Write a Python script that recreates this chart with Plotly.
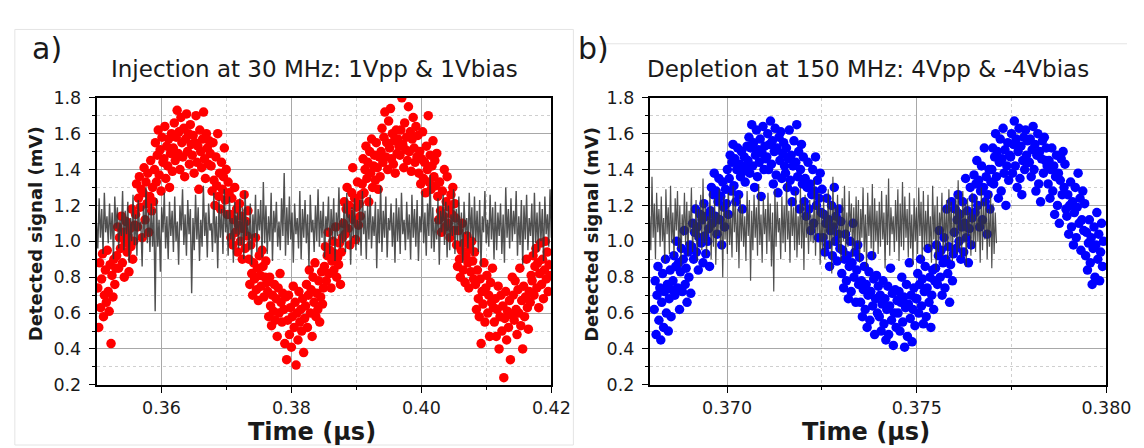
import numpy as np
import plotly.graph_objects as go

# ---------------- data ----------------
# (a) injection, 30 MHz : detected signal samples (mV)
inj_t_start, inj_t_end = 0.3502, 0.4198
inj_signal = [
    0.74, 0.52, 0.88, 0.63, 0.79, 0.93, 0.58, 0.70, 0.84, 0.66, 0.95, 0.72, 0.61, 0.87, 0.43, 0.81, 0.69, 0.90, 0.76, 0.85,
    0.92, 1.08, 0.85, 1.02, 0.96, 1.14, 0.88, 1.05, 0.80, 0.99, 1.11, 0.94, 1.03, 0.83, 1.07, 0.97, 1.18, 0.90, 1.00, 1.09,
    1.15, 1.32, 1.08, 1.24, 1.36, 1.19, 1.29, 1.02, 1.27, 1.41, 1.12, 1.33, 1.21, 1.38, 1.05, 1.25, 1.45, 1.17, 1.30, 1.22,
    1.40, 1.55, 1.33, 1.48, 1.62, 1.37, 1.51, 1.28, 1.58, 1.44, 1.46, 1.64, 1.35, 1.53, 1.42, 1.57, 1.30, 1.49, 1.60, 1.39,
    1.52, 1.66, 1.45, 1.58, 1.73, 1.49, 1.61, 1.40, 1.69, 1.55, 1.47, 1.63, 1.36, 1.57, 1.71, 1.50, 1.60, 1.43, 1.65, 1.54,
    1.48, 1.59, 1.38, 1.55, 1.70, 1.44, 1.53, 1.29, 1.62, 1.50, 1.41, 1.57, 1.72, 1.46, 1.35, 1.60, 1.52, 1.43, 1.56, 1.49,
    1.42, 1.28, 1.55, 1.34, 1.20, 1.47, 1.31, 1.60, 1.25, 1.38, 1.18, 1.44, 1.29, 1.36, 1.52, 1.23, 1.40, 1.15, 1.33, 1.27,
    1.15, 1.02, 1.24, 0.98, 1.12, 1.30, 1.05, 1.18, 0.94, 1.09, 1.21, 1.00, 1.14, 0.90, 1.07, 1.26, 0.96, 1.11, 1.03, 1.17,
    0.90, 0.76, 0.98, 0.82, 0.70, 0.88, 0.79, 1.02, 0.73, 0.85, 0.67, 0.92, 0.81, 0.75, 0.95, 0.86, 0.69, 0.80, 0.89, 0.77,
    0.72, 0.58, 0.80, 0.64, 0.53, 0.70, 0.61, 0.76, 0.56, 0.68, 0.47, 0.74, 0.60, 0.82, 0.66, 0.55, 0.71, 0.62, 0.43, 0.69,
    0.34, 0.56, 0.70, 0.48, 0.63, 0.41, 0.58, 0.75, 0.52, 0.66, 0.31, 0.60, 0.45, 0.72, 0.55, 0.62, 0.50, 0.68, 0.38, 0.57,
    0.64, 0.76, 0.52, 0.70, 0.84, 0.60, 0.73, 0.47, 0.80, 0.66, 0.88, 0.58, 0.71, 0.62, 0.78, 0.55, 0.69, 0.83, 0.65, 0.74,
    0.86, 0.97, 0.78, 0.92, 1.05, 0.82, 0.95, 0.74, 0.89, 1.00, 0.84, 0.93, 1.08, 0.80, 0.91, 0.87, 0.99, 0.76, 0.94, 1.02,
    1.10, 1.22, 1.04, 1.18, 1.30, 1.07, 1.20, 0.98, 1.15, 1.27, 1.41, 1.12, 1.24, 1.01, 1.19, 1.33, 1.09, 1.21, 1.14, 1.26,
    1.32, 1.46, 1.27, 1.40, 1.53, 1.35, 1.44, 1.22, 1.50, 1.38, 1.57, 1.30, 1.42, 1.48, 1.34, 1.55, 1.41, 1.29, 1.47, 1.36,
    1.50, 1.63, 1.44, 1.58, 1.72, 1.47, 1.55, 1.40, 1.67, 1.52, 1.74, 1.46, 1.60, 1.43, 1.56, 1.38, 1.62, 1.49, 1.57, 1.53,
    1.48, 1.62, 1.80, 1.54, 1.41, 1.66, 1.51, 1.58, 1.45, 1.75, 1.50, 1.61, 1.39, 1.57, 1.69, 1.52, 1.44, 1.64, 1.47, 1.59,
    1.38, 1.50, 1.32, 1.46, 1.61, 1.35, 1.44, 1.27, 1.53, 1.40, 1.70, 1.33, 1.48, 1.29, 1.42, 1.56, 1.36, 1.45, 1.31, 1.49,
    1.25, 1.12, 1.33, 1.17, 1.05, 1.28, 1.14, 1.40, 1.08, 1.22, 1.36, 1.10, 1.19, 1.02, 1.26, 1.15, 1.30, 1.06, 1.21, 1.13,
    0.98, 0.86, 1.06, 0.90, 0.80, 0.95, 1.10, 0.84, 0.99, 0.77, 0.92, 1.03, 0.88, 0.74, 0.96, 0.83, 1.00, 0.89, 0.79, 0.94,
    0.76, 0.62, 0.84, 0.68, 0.58, 0.79, 0.43, 0.72, 0.65, 0.88, 0.55, 0.74, 0.81, 0.60, 0.70, 0.47, 0.77, 0.66, 0.85, 0.63,
    0.55, 0.68, 0.47, 0.62, 0.75, 0.40, 0.58, 0.70, 0.50, 0.64, 0.24, 0.57, 0.72, 0.45, 0.61, 0.52, 0.67, 0.34, 0.59, 0.80,
    0.70, 0.56, 0.78, 0.62, 0.48, 0.73, 0.60, 0.85, 0.53, 0.67, 0.40, 0.75, 0.58, 0.69, 0.90, 0.63, 0.51, 0.72, 0.66, 0.81,
    0.78, 0.92, 0.70, 0.86, 0.96, 0.74, 0.88, 0.63, 0.82, 0.99, 0.76, 0.90, 0.68, 0.84, 1.00, 0.79, 0.94, 0.72, 0.87, 0.81,
]

# (a) reference trace (no modulation)
inj_ref_t_start, inj_ref_t_end = 0.350, 0.420
inj_ref = [
    1.10, 0.96, 1.24, 1.02, 1.18, 0.93, 1.27, 1.05, 1.14, 0.99,
    1.21, 1.01, 1.16, 0.90, 1.25, 1.07, 1.19, 0.96, 1.12, 1.03,
    1.28, 0.95, 1.17, 1.04, 1.22, 0.88, 1.13, 1.00, 1.26, 0.98,
    1.15, 0.92, 1.23, 1.06, 1.11, 0.86, 1.20, 1.02, 1.30, 0.99,
    1.16, 0.94, 1.21, 0.97, 1.18, 0.61, 1.24, 0.97, 1.12, 0.83,
    1.19, 1.05, 1.27, 0.96, 1.14, 0.90, 1.22, 1.03, 1.17, 0.94,
    1.25, 1.00, 1.11, 0.87, 1.20, 1.06, 1.29, 0.98, 1.15, 0.92,
    1.23, 1.04, 1.18, 0.71, 1.13, 0.95, 1.26, 1.01, 1.19, 0.89,
    1.12, 0.97, 1.31, 1.03, 1.16, 0.91, 1.21, 1.06, 1.10, 0.94,
    1.27, 0.99, 1.14, 0.85, 1.23, 1.02, 1.18, 0.93, 1.29, 1.05,
    1.17, 0.92, 1.25, 1.01, 1.13, 0.88, 1.22, 1.04, 1.16, 0.96,
    1.24, 0.98, 1.19, 0.90, 1.28, 1.03, 1.12, 0.95, 1.21, 0.87,
    1.15, 1.02, 1.26, 0.94, 1.18, 1.06, 1.23, 0.91, 1.33, 0.99,
    1.20, 0.93, 1.14, 1.00, 1.27, 0.89, 1.17, 1.05, 1.22, 0.97,
    1.11, 0.95, 1.24, 1.03, 1.38, 0.92, 1.19, 0.98, 1.25, 1.01,
    1.16, 0.88, 1.21, 1.04, 1.13, 0.96, 1.28, 0.90, 1.18, 1.02,
    1.23, 0.99, 1.15, 0.86, 1.26, 1.05, 1.12, 0.94, 1.20, 1.00,
    1.29, 0.97, 1.17, 1.02, 1.22, 0.91, 1.14, 1.06, 1.25, 0.93,
    1.18, 1.01, 1.24, 0.89, 1.16, 1.03, 1.30, 0.96, 1.13, 0.99,
    1.21, 0.94, 1.27, 1.05, 1.15, 0.87, 1.19, 1.02, 1.24, 0.95,
    1.12, 0.98, 1.23, 0.92, 1.28, 1.04, 1.17, 0.90, 1.20, 1.01,
    1.26, 0.96, 1.14, 1.03, 1.22, 0.85, 1.18, 0.99, 1.31, 0.94,
    1.17, 1.02, 1.25, 0.91, 1.13, 1.06, 1.21, 0.97, 1.16, 0.88,
    1.24, 1.00, 1.19, 0.93, 1.27, 1.04, 1.12, 0.95, 1.22, 1.01,
    1.15, 0.90, 1.26, 1.02, 1.18, 0.97, 1.23, 0.89, 1.14, 1.05,
    1.28, 0.99, 1.16, 0.92, 1.21, 1.03, 1.37, 0.96, 1.19, 0.94,
    1.13, 1.01, 1.24, 0.87, 1.17, 1.05, 1.26, 0.98, 1.22, 0.91,
    1.20, 0.95, 1.15, 1.03, 1.29, 0.93, 1.18, 1.00, 1.25, 0.97,
    1.16, 0.88, 1.22, 1.04, 1.13, 0.96, 1.27, 1.02, 1.19, 0.92,
    1.25, 1.00, 1.17, 0.94, 1.23, 0.86, 1.14, 1.05, 1.28, 0.99,
    1.12, 0.97, 1.26, 1.01, 1.19, 0.90, 1.22, 0.95, 1.16, 1.03,
    1.21, 0.93, 1.15, 0.88, 1.30, 1.02, 1.18, 0.96, 1.24, 1.00,
    1.17, 1.04, 1.28, 0.92, 1.14, 0.98, 1.23, 0.87, 1.20, 1.01,
    1.26, 0.95, 1.13, 1.03, 1.21, 0.91, 1.27, 0.99, 1.16, 0.94,
    1.22, 1.00, 1.18, 0.89, 1.25, 1.04, 1.15, 0.97, 1.29, 1.02,
]

# (b) depletion, 150 MHz : detected signal samples (mV)
dep_t_start, dep_t_end = 0.36808, 0.37992
dep_signal = [
    0.62, 0.78, 0.48, 0.70, 0.86, 0.56, 0.74, 0.45, 0.66, 0.82, 0.52, 0.72, 0.90, 0.60, 0.76, 0.50, 0.68, 0.84, 0.58, 0.73,
    0.78, 0.92, 0.70, 0.86, 1.00, 0.74, 0.88, 0.62, 0.83, 0.96, 0.72, 0.90, 1.06, 0.76, 0.85, 0.66, 0.94, 0.80, 0.98, 0.71,
    0.97, 1.10, 0.90, 1.05, 1.18, 0.94, 1.08, 0.84, 1.02, 1.15, 0.99, 1.12, 0.88, 1.21, 1.03, 0.93, 1.14, 1.00, 1.07, 0.86,
    1.17, 1.30, 1.10, 1.26, 1.38, 1.14, 1.28, 1.04, 1.22, 1.35, 1.12, 1.25, 0.98, 1.33, 1.19, 1.08, 1.29, 1.21, 1.40, 1.15,
    1.35, 1.48, 1.28, 1.44, 1.54, 1.31, 1.46, 1.22, 1.40, 1.52, 1.26, 1.43, 1.36, 1.50, 1.18, 1.39, 1.47, 1.33, 1.42, 1.53,
    1.45, 1.58, 1.38, 1.52, 1.65, 1.42, 1.55, 1.30, 1.48, 1.62, 1.36, 1.51, 1.44, 1.57, 1.25, 1.49, 1.64, 1.40, 1.53, 1.46,
    1.47, 1.60, 1.40, 1.54, 1.67, 1.43, 1.56, 1.32, 1.50, 1.63, 1.37, 1.52, 1.27, 1.58, 1.45, 1.61, 1.35, 1.49, 1.55, 1.42,
    1.38, 1.52, 1.30, 1.46, 1.62, 1.34, 1.48, 1.22, 1.42, 1.56, 1.28, 1.44, 1.65, 1.36, 1.50, 1.18, 1.40, 1.54, 1.32, 1.47,
    1.22, 1.35, 1.14, 1.30, 1.44, 1.18, 1.32, 1.06, 1.26, 1.40, 1.10, 1.28, 1.47, 1.20, 1.34, 1.02, 1.24, 1.38, 1.16, 1.29,
    1.02, 1.15, 0.94, 1.10, 1.24, 0.98, 1.12, 0.86, 1.06, 1.20, 0.92, 1.08, 1.30, 1.00, 1.14, 0.89, 1.04, 1.18, 0.96, 1.11,
    0.82, 0.95, 0.74, 0.90, 1.04, 0.78, 0.92, 0.68, 0.86, 1.00, 0.72, 0.88, 1.10, 0.80, 0.94, 0.66, 0.84, 0.98, 0.76, 0.91,
    0.66, 0.78, 0.58, 0.73, 0.86, 0.62, 0.76, 0.52, 0.70, 0.83, 0.56, 0.72, 0.92, 0.64, 0.79, 0.48, 0.68, 0.81, 0.60, 0.75,
    0.58, 0.70, 0.50, 0.65, 0.78, 0.54, 0.68, 0.45, 0.62, 0.75, 0.48, 0.64, 0.85, 0.56, 0.71, 0.42, 0.60, 0.73, 0.52, 0.67,
    0.60, 0.72, 0.50, 0.66, 0.80, 0.55, 0.69, 0.41, 0.63, 0.76, 0.47, 0.65, 0.88, 0.57, 0.70, 0.44, 0.62, 0.74, 0.53, 0.68,
    0.68, 0.82, 0.60, 0.76, 0.90, 0.64, 0.79, 0.54, 0.72, 0.86, 0.58, 0.74, 0.96, 0.66, 0.80, 0.52, 0.70, 0.84, 0.62, 0.78,
    0.85, 0.98, 0.76, 0.92, 1.06, 0.80, 0.95, 0.70, 0.88, 1.02, 0.74, 0.90, 1.18, 0.82, 0.97, 0.66, 0.87, 1.22, 0.78, 0.93,
    1.05, 1.18, 0.96, 1.12, 1.26, 1.00, 1.15, 0.90, 1.08, 1.22, 0.94, 1.10, 1.35, 1.02, 1.17, 0.88, 1.07, 1.30, 0.98, 1.13,
    1.24, 1.37, 1.16, 1.32, 1.45, 1.20, 1.34, 1.08, 1.28, 1.42, 1.12, 1.30, 1.52, 1.22, 1.36, 1.04, 1.26, 1.40, 1.18, 1.33,
    1.40, 1.52, 1.32, 1.47, 1.60, 1.36, 1.50, 1.24, 1.44, 1.57, 1.28, 1.46, 1.63, 1.38, 1.51, 1.20, 1.42, 1.55, 1.34, 1.48,
    1.47, 1.60, 1.38, 1.54, 1.67, 1.42, 1.57, 1.30, 1.50, 1.63, 1.35, 1.53, 1.26, 1.45, 1.58, 1.40, 1.62, 1.48, 1.56, 1.44,
    1.44, 1.57, 1.36, 1.51, 1.64, 1.40, 1.54, 1.28, 1.48, 1.60, 1.32, 1.50, 1.22, 1.46, 1.56, 1.38, 1.58, 1.45, 1.52, 1.42,
    1.32, 1.45, 1.24, 1.40, 1.52, 1.28, 1.42, 1.15, 1.36, 1.48, 1.20, 1.38, 1.10, 1.34, 1.46, 1.26, 1.50, 1.30, 1.43, 1.18,
    1.14, 1.26, 1.04, 1.20, 1.33, 1.08, 1.22, 0.98, 1.16, 1.30, 1.02, 1.19, 1.38, 1.10, 1.24, 0.95, 1.12, 1.28, 1.06, 1.21,
    0.92, 1.05, 0.84, 0.99, 1.12, 0.88, 1.02, 0.76, 0.96, 1.08, 0.80, 0.98, 1.16, 0.90, 1.04, 0.78, 0.94, 1.10, 0.86, 1.00,
]

# (b) reference trace (no modulation)
dep_ref_t_start, dep_ref_t_end = 0.36796, 0.37710
dep_ref = [
    1.14, 0.95, 1.36, 1.02, 1.21, 0.90, 1.27, 1.05, 1.18, 0.97,
    1.25, 1.00, 1.13, 0.88, 1.29, 1.04, 1.19, 0.93, 1.31, 0.99,
    1.16, 0.91, 1.24, 1.06, 1.28, 0.96, 1.20, 0.86, 1.15, 1.03,
    1.27, 0.98, 1.22, 0.92, 1.17, 1.05, 1.30, 0.94, 1.12, 1.01,
    1.23, 0.89, 1.18, 1.02, 1.26, 0.95, 1.35, 0.99, 1.21, 0.92,
    1.14, 1.04, 1.28, 0.90, 1.19, 0.97, 1.24, 0.87, 1.16, 1.03,
    1.29, 0.96, 1.20, 0.80, 1.25, 1.01, 1.17, 0.93, 1.27, 0.98,
    1.15, 0.91, 1.31, 1.05, 1.22, 0.94, 1.18, 0.85, 1.26, 1.00,
    1.20, 0.97, 1.14, 0.89, 1.28, 1.03, 1.23, 0.78, 1.17, 0.95,
    1.26, 1.02, 1.19, 0.92, 1.32, 0.98, 1.15, 0.88, 1.24, 1.04,
    1.18, 0.93, 1.27, 1.00, 1.21, 0.86, 1.16, 0.72, 1.29, 0.97,
    1.22, 1.05, 1.13, 0.90, 1.25, 0.99, 1.20, 0.94, 1.33, 1.01,
    1.17, 0.88, 1.24, 1.03, 1.19, 0.95, 1.28, 0.91, 1.14, 0.98,
    1.30, 0.96, 1.21, 0.84, 1.26, 1.02, 1.16, 0.93, 1.23, 1.00,
    1.15, 0.99, 1.34, 0.92, 1.20, 1.04, 1.27, 0.87, 1.18, 0.95,
    1.25, 0.90, 1.17, 1.01, 1.29, 0.96, 1.22, 0.82, 1.36, 0.98,
    1.19, 1.03, 1.26, 0.94, 1.14, 0.89, 1.24, 1.00, 1.31, 0.92,
    1.16, 0.97, 1.28, 1.05, 1.21, 0.91, 1.19, 0.95, 1.25, 0.99,
    1.23, 0.88, 1.18, 1.02, 1.30, 0.94, 1.15, 0.86, 1.27, 1.03,
    1.20, 0.96, 1.32, 0.90, 1.24, 1.00, 1.17, 0.93, 1.22, 0.97,
    1.28, 1.01, 1.16, 0.85, 1.26, 0.98, 1.35, 0.92, 1.19, 1.04,
    1.14, 0.94, 1.23, 1.00, 1.29, 0.89, 1.21, 0.97, 1.33, 0.95,
    1.25, 1.02, 1.18, 0.91, 1.27, 0.96, 1.15, 0.87, 1.24, 1.00,
    1.19, 0.93, 1.30, 1.03, 1.22, 0.90, 1.28, 0.95, 1.17, 0.98,
    1.26, 0.97, 1.14, 0.88, 1.31, 1.01, 1.20, 0.84, 1.25, 0.94,
    1.16, 1.04, 1.27, 0.92, 1.19, 0.97, 1.23, 0.90, 1.29, 1.00,
    1.22, 0.89, 1.17, 1.02, 1.26, 0.93, 1.34, 0.96, 1.18, 0.91,
    1.28, 0.99, 1.21, 0.86, 1.24, 1.03, 1.16, 0.92, 1.27, 0.97,
    1.15, 0.94, 1.25, 1.00, 1.20, 0.88, 1.30, 0.95, 1.22, 1.01,
    1.24, 0.90, 1.18, 0.97, 1.27, 0.85, 1.21, 0.93, 1.16, 0.99,
]

inj_ticks = [0.36, 0.38, 0.40, 0.42]
inj_ticktext = ["0.36", "0.38", "0.40", "0.42"]
inj_minor = [0.37, 0.39, 0.41]
dep_ticks = [0.370, 0.375, 0.380]
dep_ticktext = ["0.370", "0.375", "0.380"]
dep_minor = [0.3725, 0.3775]
y_ticks = [0.2, 0.4, 0.6, 0.8, 1.0, 1.2, 1.4, 1.6, 1.8]
y_ticktext = ["0.2", "0.4", "0.6", "0.8", "1.0", "1.2", "1.4", "1.6", "1.8"]
y_minor = [0.3, 0.5, 0.7, 0.9, 1.1, 1.3, 1.5, 1.7]

title_a = "Injection at 30 MHz: 1Vpp & 1Vbias"
title_b = "Depletion at 150 MHz: 4Vpp & -4Vbias"
x_title = "Time (μs)"
y_title = "Detected signal (mV)"

# ---------------- figure ----------------
W, H = 1144, 448
FONT = "DejaVu Sans"
TXT = "#1a1a1a"

def px_x(p):
    return p / W

def px_y(p):
    return 1 - p / H

inj_t = np.linspace(inj_t_start, inj_t_end, len(inj_signal))
inj_ref_t = np.linspace(inj_ref_t_start, inj_ref_t_end, len(inj_ref))
dep_t = np.linspace(dep_t_start, dep_t_end, len(dep_signal))
dep_ref_t = np.linspace(dep_ref_t_start, dep_ref_t_end, len(dep_ref))

GREY = "#333333"
fig = go.Figure()
fig.add_trace(go.Scatter(x=inj_t, y=inj_signal, mode="markers", xaxis="x", yaxis="y",
                         marker=dict(color="#ff0000", size=9.5, line=dict(width=0)), showlegend=False))
fig.add_trace(go.Scatter(x=inj_ref_t, y=inj_ref, mode="lines", xaxis="x", yaxis="y",
                         line=dict(color=GREY, width=1.4), opacity=0.85, showlegend=False))
fig.add_trace(go.Scatter(x=dep_t, y=dep_signal, mode="markers", xaxis="x2", yaxis="y2",
                         marker=dict(color="#0000ff", size=9.5, line=dict(width=0)), showlegend=False))
fig.add_trace(go.Scatter(x=dep_ref_t, y=dep_ref, mode="lines", xaxis="x2", yaxis="y2",
                         line=dict(color=GREY, width=1.2), opacity=0.85, showlegend=False))

y_dom = [px_y(384), px_y(83.5)]
xdom1 = [px_x(90.5), px_x(555.5)]
xdom2 = [px_x(656), px_x(1123)]

common_axis = dict(
    showline=True, linecolor="black", linewidth=1.6, mirror=True,
    ticks="outside", ticklen=6, tickwidth=1.3, tickcolor="black",
    showgrid=True, gridcolor="#a8a8a8", gridwidth=1, zeroline=False,
    tickfont=dict(family=FONT, size=17.5, color=TXT),
)
minor_grid = dict(ticks="outside", ticklen=3, tickcolor="black",
                  showgrid=True, gridcolor="#cfcfcf", griddash="dot", gridwidth=1)

yaxis_cfg = dict(common_axis, range=[0.2, 1.8], tickvals=y_ticks, ticktext=y_ticktext,
                 domain=y_dom, ticklabelstandoff=4,
                 minor=dict(minor_grid, tickvals=y_minor))

fig.update_layout(
    width=W, height=H, autosize=False,
    margin=dict(l=0, r=0, t=0, b=0),
    paper_bgcolor="white", plot_bgcolor="white",
    xaxis=dict(common_axis, range=[0.35, 0.42], tickvals=inj_ticks, ticktext=inj_ticktext, domain=xdom1,
               anchor="y", minor=dict(minor_grid, tickvals=inj_minor)),
    yaxis=dict(yaxis_cfg, anchor="x"),
    xaxis2=dict(common_axis, range=[0.36796, 0.380], tickvals=dep_ticks, ticktext=dep_ticktext, domain=xdom2,
                anchor="y2", minor=dict(minor_grid, tickvals=dep_minor)),
    yaxis2=dict(yaxis_cfg, anchor="x2"),
)

ann = []
def text(x, y, s, size, bold=False, angle=0, xanchor="center"):
    ann.append(dict(xref="paper", yref="paper", x=px_x(x), y=px_y(y), text=s, showarrow=False,
                    xanchor=xanchor, yanchor="middle", textangle=angle,
                    font=dict(family=FONT, size=size, color=TXT, weight="bold" if bold else "normal")))

text(23, 32, "a)", 30, xanchor="left")
text(581, 32, "b)", 30, xanchor="left")
text(313, 53, title_a, 23)
text(879, 53, title_b, 23)
text(311, 433, x_title, 24, bold=True)
text(877, 433, x_title, 24, bold=True)
text(29, 226, y_title, 18, bold=True, angle=-90)
text(597, 226, y_title, 18, bold=True, angle=-90)
fig.update_layout(annotations=ann)

# faint panel borders of the original composite image
fig.add_shape(type="rect", xref="paper", yref="paper", x0=px_x(7), x1=px_x(578), y0=px_y(447), y1=px_y(12),
              line=dict(color="#e4e4e4", width=1), layer="below")
fig.add_shape(type="line", xref="paper", yref="paper", x0=px_x(605), x1=1, y0=px_y(27), y1=px_y(27),
              line=dict(color="#e4e4e4", width=1), layer="below")

fig.write_html("out.html")
